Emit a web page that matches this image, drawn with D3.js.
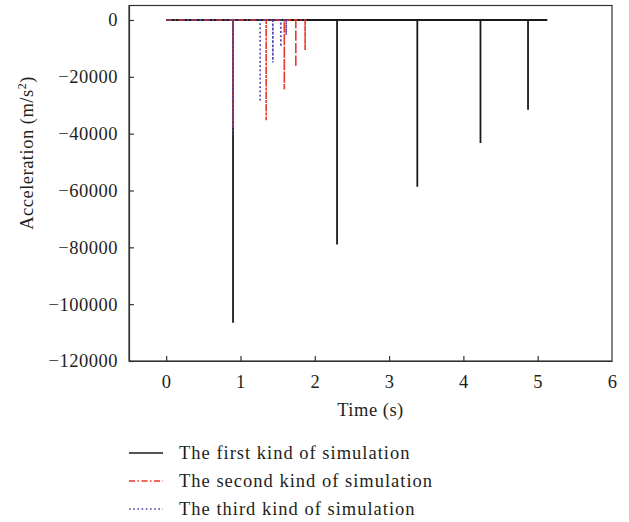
<!DOCTYPE html>
<html>
<head>
<meta charset="utf-8">
<script src="https://cdn.jsdelivr.net/npm/d3@7"></script>
<style>
  body { margin: 0; background: #fff; }
  svg text { font-family: "Liberation Serif", "Times New Roman", serif; fill: #231f20; letter-spacing: 0.5px; }
  svg text.legend-label { letter-spacing: 1px; }
</style>
</head>
<body>
<div id="chart"></div>
<script>
// spike times (s) and peak accelerations (m/s^2) for each simulation
const firstTimes = [0.9, 2.30, 3.38, 4.23, 4.87];
const firstValues = [-106500, -79000, -58700, -43300, -31600];
const firstEnd = 5.13;

const secondTimes = [0.9, 1.346, 1.59, 1.745, 1.87];
const secondValues = [-38000, -35300, -24500, -16500, -10600];
const secondEnd = 1.89;

const thirdTimes = [0.9, 1.265, 1.436, 1.544, 1.615];
const thirdValues = [-40500, -28800, -15000, -9400, -5300];
const thirdEnd = 1.62;

const xTicks = [0, 1, 2, 3, 4, 5, 6];
const yTicks = [0, -20000, -40000, -60000, -80000, -100000, -120000];

const legendLabels = ["The first kind of simulation", "The second kind of simulation", "The third kind of simulation"];

const width = 629, height = 522;
const margin = { top: 5.5, right: 17, bottom: 161, left: 129 };

const svg = d3.select("#chart").append("svg")
    .attr("width", width)
    .attr("height", height);

const x = d3.scaleLinear().domain([-0.5, 6]).range([margin.left, width - margin.right]);
const y = d3.scaleLinear().domain([-120000, 5100]).range([height - margin.bottom, margin.top]);

// build a baseline-with-spikes path from times/values
function spikeSeries(times, values, end) {
    const pts = [[0, 0]];
    times.forEach((t, i) => {
        pts.push([t, 0], [t, values[i]], [t, 0]);
    });
    pts.push([end, 0]);
    return pts;
}

const line = d3.line().x(d => x(d[0])).y(d => y(d[1]));

const series = [
    { data: spikeSeries(firstTimes, firstValues, firstEnd), color: "#1a1a1a", dash: null, w: 1.8 },
    { data: spikeSeries(secondTimes, secondValues, secondEnd), color: "#e8392a", dash: "6,2.5,1.5,2.5", w: 1.6 },
    { data: spikeSeries(thirdTimes, thirdValues, thirdEnd), color: "#4b3dab", dash: "1.6,2.6", w: 1.6 }
];

series.forEach(s => {
    svg.append("path")
        .datum(s.data)
        .attr("d", line)
        .attr("fill", "none")
        .attr("stroke", s.color)
        .attr("stroke-width", s.w)
        .attr("stroke-dasharray", s.dash);
});

// frame
svg.append("rect")
    .attr("x", margin.left)
    .attr("y", margin.top)
    .attr("width", width - margin.right - margin.left)
    .attr("height", height - margin.bottom - margin.top)
    .attr("fill", "none")
    .attr("stroke", "#333")
    .attr("stroke-width", 1.2);

// axes
const xAxis = d3.axisBottom(x).tickValues(xTicks).tickSizeInner(-5).tickSizeOuter(0).tickPadding(14)
    .tickFormat(d3.format("d"));
const yAxis = d3.axisLeft(y).tickValues(yTicks).tickSizeInner(-5).tickSizeOuter(0).tickPadding(11)
    .tickFormat(d => d < 0 ? "\u2212" + Math.abs(d) : d);

const gx = svg.append("g")
    .attr("transform", "translate(0," + (height - margin.bottom) + ")")
    .call(xAxis);
const gy = svg.append("g")
    .attr("transform", "translate(" + margin.left + ",0)")
    .call(yAxis);

[gx, gy].forEach(g => {
    g.select(".domain").attr("stroke", "#333").attr("stroke-width", 1.2);
    g.selectAll(".tick line").attr("stroke", "#333").attr("stroke-width", 1.2);
    g.selectAll(".tick text").style("font-size", "18.5px").attr("fill", "#231f20");
});
gx.selectAll(".tick").filter(d => d === 6).select("line").remove();

// axis titles
svg.append("text")
    .attr("x", (margin.left + width - margin.right) / 2)
    .attr("y", 416)
    .attr("text-anchor", "middle")
    .style("font-size", "18.5px")
    .text("Time (s)");

const yTitle = svg.append("text")
    .attr("transform", "translate(33,153) rotate(-90)")
    .attr("text-anchor", "middle")
    .style("font-size", "18.5px");
yTitle.append("tspan").text("Acceleration (m/s");
yTitle.append("tspan").attr("dy", -7).style("font-size", "12px").text("2");
yTitle.append("tspan").attr("dy", 7).text(")");

// legend
const legend = svg.append("g");
legendLabels.forEach((label, i) => {
    const ly = 453 + i * 28;
    legend.append("line")
        .attr("x1", 129).attr("x2", 163)
        .attr("y1", ly).attr("y2", ly)
        .attr("stroke", series[i].color)
        .attr("stroke-width", 1.5)
        .attr("stroke-dasharray", series[i].dash);
    legend.append("text")
        .attr("class", "legend-label")
        .attr("x", 179)
        .attr("y", ly + 6)
        .style("font-size", "18.5px")
        .text(label);
});
</script>
</body>
</html>
